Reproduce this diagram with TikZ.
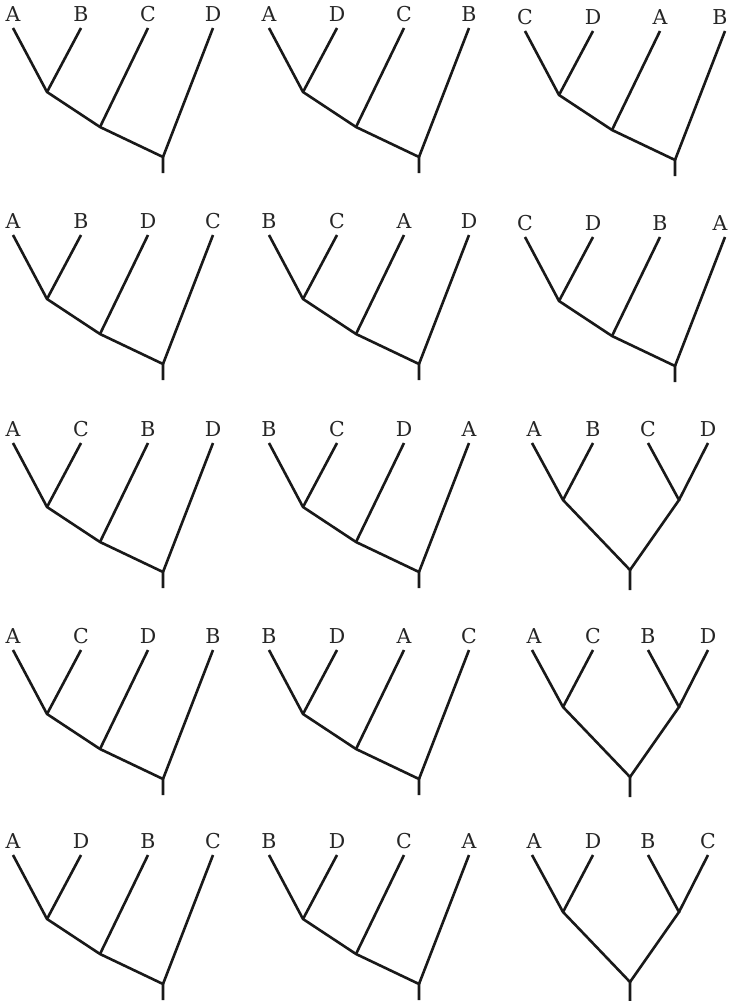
\documentclass[tikz,border=0pt]{standalone}
\usepackage{fontspec}
\newfontfamily\labfont{DejaVu Serif}
\tikzset{
  branch/.style={line width=2.6pt, line cap=butt, line join=miter, black!90},
  leaflab/.style={anchor=base, inner sep=0pt, text=black!85, font=\labfont\fontsize{20.5}{24}\selectfont}
}
\def\lfour{0}
\newcommand\asymtree[7]{%
  \begin{scope}[shift={(#2,#3)}]
    \coordinate (#1t1) at (0,0);
    \coordinate (#1t2) at (68,0);
    \coordinate (#1t3) at (135,0);
    \coordinate (#1t4) at (200,0);
    \coordinate (#1n1) at (34,64);
    \coordinate (#1n2) at (87,99);
    \coordinate (#1r) at (150,129);
    \coordinate (#1s) at (150,145);
    \node[leaflab] (#1l1) at (0,-7) {#4};
    \node[leaflab] (#1l2) at (68,-7) {#5};
    \node[leaflab] (#1l3) at (135,-7) {#6};
    \node[leaflab] (#1l4) at (200+\lfour,-7) {#7};
    \draw[branch] (#1t1) -- (#1n1) -- (#1n2) -- (#1r) -- (#1s);
    \draw[branch] (#1t2) -- (#1n1);
    \draw[branch] (#1t3) -- (#1n2);
    \draw[branch] (#1t4) -- (#1r);
  \end{scope}}
\newcommand\symtree[7]{%
  \begin{scope}[shift={(#2,#3)}]
    \coordinate (#1t1) at (0,0);
    \coordinate (#1t2) at (61,0);
    \coordinate (#1t3) at (116,0);
    \coordinate (#1t4) at (176,0);
    \coordinate (#1nl) at (31,57);
    \coordinate (#1nr) at (147,57);
    \coordinate (#1r) at (98,127);
    \coordinate (#1s) at (98,147);
    \node[leaflab] (#1l1) at (2,-7) {#4};
    \node[leaflab] (#1l2) at (61,-7) {#5};
    \node[leaflab] (#1l3) at (116,-7) {#6};
    \node[leaflab] (#1l4) at (176,-7) {#7};
    \draw[branch] (#1t1) -- (#1nl) -- (#1r) -- (#1s);
    \draw[branch] (#1t2) -- (#1nl);
    \draw[branch] (#1t3) -- (#1nr) -- (#1r);
    \draw[branch] (#1t4) -- (#1nr);
  \end{scope}}
\begin{document}
\begin{tikzpicture}[x=1pt,y=-1pt]
  \path[use as bounding box, fill=white] (0,0) rectangle (730,1001);
  % row 1
  \asymtree{a}{13}{28}{A}{B}{C}{D}
  \asymtree{b}{269}{28}{A}{D}{C}{B}
  {\def\lfour{-5}\asymtree{c}{525}{31}{C}{D}{A}{B}}
  % row 2
  \asymtree{d}{13}{235}{A}{B}{D}{C}
  \asymtree{e}{269}{235}{B}{C}{A}{D}
  {\def\lfour{-5}\asymtree{f}{525}{237}{C}{D}{B}{A}}
  % row 3
  \asymtree{g}{13}{443}{A}{C}{B}{D}
  \asymtree{h}{269}{443}{B}{C}{D}{A}
  \symtree{i}{532}{443}{A}{B}{C}{D}
  % row 4
  \asymtree{j}{13}{650}{A}{C}{D}{B}
  \asymtree{k}{269}{650}{B}{D}{A}{C}
  \symtree{l}{532}{650}{A}{C}{B}{D}
  % row 5
  \asymtree{m}{13}{855}{A}{D}{B}{C}
  \asymtree{n}{269}{855}{B}{D}{C}{A}
  \symtree{o}{532}{855}{A}{D}{B}{C}
\end{tikzpicture}
\end{document}
